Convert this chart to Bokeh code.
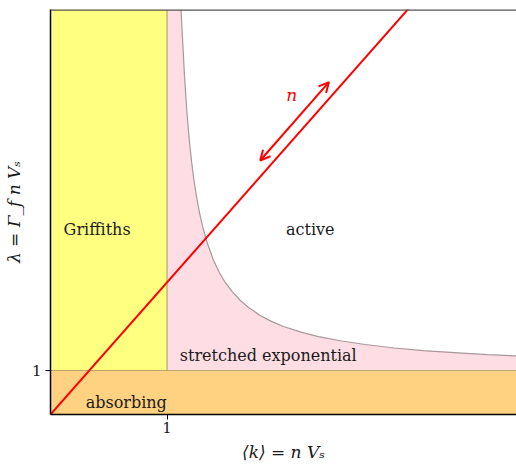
from bokeh.plotting import figure
from bokeh.models import Range1d, FixedTicker, Arrow, OpenHead, Label, Span
from bokeh.embed import file_html
from bokeh.resources import INLINE

# ---- data ----
k_max = 4.0
lam_max = 9.2
x_ticks = [1]
y_ticks = [1]

# critical curve
curve_k = [1.12, 1.13, 1.15, 1.17, 1.19, 1.21, 1.23, 1.25, 1.28, 1.31, 1.35, 1.40, 1.45, 1.50,
           1.56, 1.63, 1.70, 1.80, 1.90, 2.00, 2.15, 2.30, 2.50, 2.70, 2.95, 3.20, 3.50, 3.75, 4.00]
curve_lam = [9.20, 8.70, 7.70, 6.90, 6.26, 5.76, 5.35, 5.00, 4.57, 4.23, 3.86, 3.50, 3.22, 3.00,
             2.79, 2.59, 2.43, 2.25, 2.11, 2.00, 1.87, 1.77, 1.67, 1.59, 1.51, 1.45, 1.40, 1.36, 1.33]

# red line lambda = 3 k
line_k = [0, 4]
line_lam = [0, 12]

# arrow along n
arrow_k = [1.80, 2.39]
arrow_lam = [5.77, 7.55]

region_names = ["Griffiths", "active", "stretched exponential", "absorbing"]
region_k = [0.40, 2.23, 1.11, 0.65]
region_lam = [4.2, 4.2, 1.34, 0.27]

FONT = "DejaVu Serif"

p = figure(width=516, height=466, output_backend="svg", toolbar_location=None,
           x_range=Range1d(0, k_max), y_range=Range1d(0, lam_max),
           min_border_left=50, min_border_right=0, min_border_top=9, min_border_bottom=52)
p.outline_line_color = None
p.grid.visible = False
p.background_fill_color = "white"

# regions
p.quad(left=0, right=k_max, bottom=0, top=1, fill_color="#FFD281", line_color=None)
p.quad(left=0, right=1, bottom=1, top=lam_max, fill_color="#FFFF80", line_color=None)
pk = [1, 1] + curve_k + [k_max]
pl = [1, lam_max] + curve_lam + [1]
p.patch(pk, pl, fill_color="#FFDDE4", line_color=None)

# edges
p.line([0, k_max], [1, 1], line_color="#B8A56A", line_width=1)
p.line([1, 1], [1, lam_max], line_color="#9A9A5A", line_width=1)
p.line(curve_k, curve_lam, line_color="#A8979B", line_width=1.2)

# red line
p.line(line_k, line_lam, line_color="red", line_width=2)

# top border
p.add_layout(Span(location=lam_max, dimension="width", line_color="#555555", line_width=2.5))

# arrow
p.add_layout(Arrow(x_start=arrow_k[0], y_start=arrow_lam[0], x_end=arrow_k[1], y_end=arrow_lam[1],
                   line_color="red", line_width=2,
                   start=OpenHead(size=10, line_color="red", line_width=2),
                   end=OpenHead(size=10, line_color="red", line_width=2)))
p.add_layout(Label(x=2.07, y=7.25, text="n", text_color="red", text_font=FONT,
                   text_font_style="italic", text_font_size="17px",
                   text_align="center", text_baseline="middle"))

for name, kk, ll in zip(region_names, region_k, region_lam):
    align = "left" if name == "stretched exponential" else "center"
    p.add_layout(Label(x=kk, y=ll, text=name, text_font=FONT, text_font_size="16px",
                       text_color="#1a1a1a", text_align=align, text_baseline="middle"))

# axes
for ax in (p.xaxis[0], p.yaxis[0]):
    ax.major_label_text_font = FONT
    ax.major_label_text_font_size = "15px"
    ax.major_label_text_color = "#1a1a1a"
    ax.axis_line_color = "black"
    ax.axis_line_width = 1.5
    ax.major_tick_in = 0
    ax.major_tick_out = 5
    ax.major_tick_line_color = "black"
    ax.minor_tick_line_color = None
    ax.axis_label_text_font = FONT
    ax.axis_label_text_font_size = "17px"
    ax.axis_label_text_font_style = "italic"
    ax.axis_label_text_color = "#1a1a1a"
p.xaxis.ticker = FixedTicker(ticks=x_ticks)
p.yaxis.ticker = FixedTicker(ticks=y_ticks)
p.xaxis.axis_label = "⟨k⟩ = n Vₛ"
p.yaxis.axis_label = "λ = Γ_f n Vₛ"
p.xaxis.major_label_standoff = 2
p.yaxis.major_label_standoff = 4
p.xaxis.axis_label_standoff = 6
p.yaxis.axis_label_standoff = 5

open("out.html", "w").write(file_html(p, INLINE))
